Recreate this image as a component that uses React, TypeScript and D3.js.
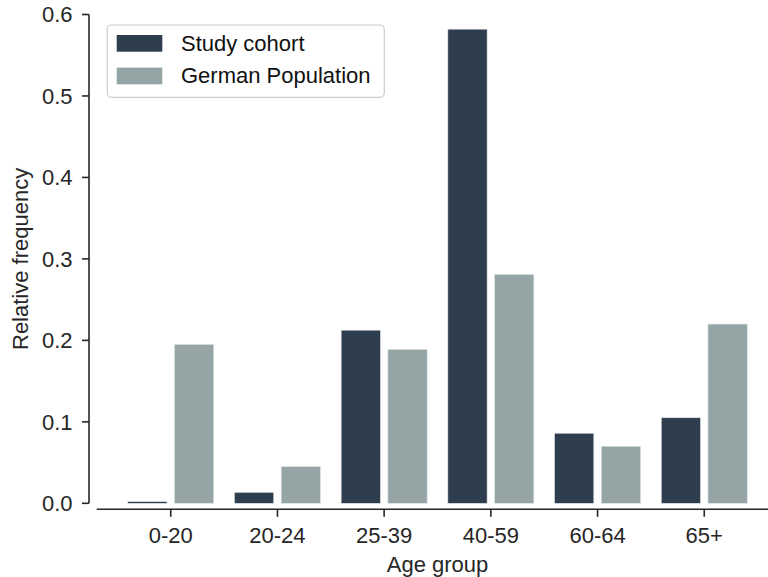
import React from "react";
import * as d3 from "d3";

const categories = ["0-20", "20-24", "25-39", "40-59", "60-64", "65+"];
const seriesNames = ["Study cohort", "German Population"];
const studyCohort = [0.002, 0.0135, 0.2125, 0.582, 0.086, 0.105];
const germanPopulation = [0.195, 0.045, 0.189, 0.281, 0.07, 0.22];
const yTicks = [0.0, 0.1, 0.2, 0.3, 0.4, 0.5, 0.6];
const colors = ["#2f3e4f", "#95a5a5"];

const W = 768;
const H = 577;
const FONT = "'Liberation Sans', Arial, Helvetica, sans-serif";
const INK = "#262626";

export default function App() {
  const x = d3.scaleBand<string>().domain(categories).range([117.4, 757.6]).padding(0);
  const y = d3.scaleLinear().domain([0, 0.6]).range([503.3, 14.5]);
  const inner = d3.scaleBand<string>().domain(seriesNames).range([0, 86]).paddingInner(0.16).paddingOuter(0);
  const series = [studyCohort, germanPopulation];
  const yAxisX = 89;
  const xAxisY = 509.3;
  const fs = 22;

  return (
    <svg width={W} height={H} style={{ position: "absolute", left: 0, top: 0, background: "#fff" }} fontFamily={FONT}>
      {/* bars */}
      {categories.map((c, i) => {
        const cx = (x(c) as number) + x.bandwidth() / 2;
        const g0 = cx - 43;
        return (
          <g key={c}>
            {series.map((s, k) => (
              <rect
                key={k}
                x={g0 + (inner(seriesNames[k]) as number)}
                y={y(s[i])}
                width={inner.bandwidth()}
                height={y(0) - y(s[i])}
                fill={colors[k]}
                stroke="#dfe3e3"
                strokeWidth={0.6}
              />
            ))}
          </g>
        );
      })}

      {/* y axis */}
      <line x1={yAxisX} x2={yAxisX} y1={y(0.6)} y2={y(0)} stroke={INK} strokeWidth={1.6} />
      {yTicks.map((t) => (
        <g key={t}>
          <line x1={yAxisX - 7} x2={yAxisX} y1={y(t)} y2={y(t)} stroke={INK} strokeWidth={1.6} />
          <text x={72.5} y={y(t)} dy="0.36em" textAnchor="end" fontSize={fs} fill={INK}>
            {d3.format(".1f")(t)}
          </text>
        </g>
      ))}
      <text
        transform={`translate(28,${(y(0) + y(0.6)) / 2}) rotate(-90)`}
        textAnchor="middle"
        fontSize={fs}
        fill={INK}
      >
        Relative frequency
      </text>

      {/* x axis */}
      <line x1={96.7} x2={W} y1={xAxisY} y2={xAxisY} stroke={INK} strokeWidth={1.6} />
      {categories.map((c) => {
        const cx = (x(c) as number) + x.bandwidth() / 2;
        return (
          <g key={c}>
            <line x1={cx} x2={cx} y1={xAxisY} y2={xAxisY + 7.5} stroke={INK} strokeWidth={1.6} />
            <text x={cx} y={542.7} textAnchor="middle" fontSize={fs} fill={INK}>
              {c}
            </text>
          </g>
        );
      })}
      <text x={(x(categories[0]) as number + x.bandwidth() / 2 + (x(categories[5]) as number) + x.bandwidth() / 2) / 2} y={571.7} textAnchor="middle" fontSize={fs} fill={INK}>
        Age group
      </text>

      {/* legend */}
      <rect x={107.3} y={25} width={277} height={72.3} rx={4} fill="#fff" stroke="#cccccc" strokeWidth={1.2} />
      {seriesNames.map((n, k) => (
        <g key={n}>
          <rect x={116.7} y={35 + k * 32.6} width={45.6} height={16.7} fill={colors[k]} />
          <text x={181} y={50.7 + k * 32.6} fontSize={fs} fill="#111">
            {n}
          </text>
        </g>
      ))}
    </svg>
  );
}
